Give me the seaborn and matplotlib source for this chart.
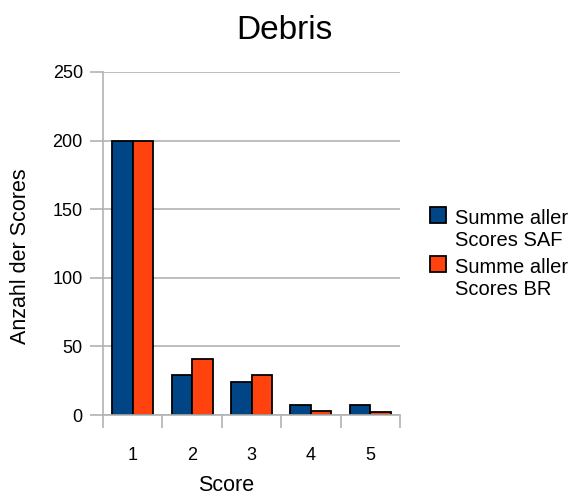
import matplotlib
matplotlib.use("Agg")
import matplotlib.pyplot as plt
from matplotlib.patches import Patch, Rectangle
from matplotlib.legend_handler import HandlerPatch
import seaborn as sns
import pandas as pd

# Score categories and the summed counts for each reader
scores = ["1", "2", "3", "4", "5"]
saf_counts = [200, 29, 24, 7, 7]
br_counts = [200, 41, 29, 3, 2]
series_names = ["Summe aller\nScores SAF", "Summe aller\nScores BR"]
series_colors = ["#004586", "#ff420e"]

df = pd.DataFrame({
    "Score": scores * 2,
    "Anzahl": saf_counts + br_counts,
    "Serie": [series_names[0]] * len(scores) + [series_names[1]] * len(scores),
})

sns.set_theme(style="white")
plt.rcParams["font.family"] = ["Liberation Sans", "DejaVu Sans"]

W, H = 575, 497
fig = plt.figure(figsize=(W / 100, H / 100), dpi=100)
ax = fig.add_axes([103 / W, 1 - 415 / H, 297 / W, 343 / H])

grid_color = "#b3b3b3"

sns.barplot(
    data=df, x="Score", y="Anzahl", hue="Serie",
    palette=series_colors, width=0.69, gap=0,
    edgecolor="black", linewidth=1.3, saturation=1,
    legend=False, ax=ax,
)

ax.set_ylim(0, 250)
ax.set_xlim(-0.5, len(scores) - 0.5)
ax.set_yticks(range(0, 251, 50))
ax.yaxis.grid(True, color=grid_color, linewidth=1.2)
ax.set_axisbelow(True)

# Category ticks sit between the groups; labels sit under the groups
ax.set_xticks([i - 0.5 for i in range(len(scores) + 1)])
ax.set_xticklabels([])
ax.set_xticks(range(len(scores)), minor=True)
ax.set_xticklabels(scores, minor=True)
ax.tick_params(axis="x", which="major", direction="out", length=9.5, width=1.2,
               color=grid_color, bottom=True)
ax.tick_params(axis="x", which="minor", length=0, pad=23, labelsize=13,
               labelcolor="black")
ax.tick_params(axis="y", direction="out", length=9.5, width=1.2, color=grid_color,
               left=True, pad=5, labelsize=13, labelcolor="black")

for side in ["top", "right"]:
    ax.spines[side].set_visible(False)
for side in ["left", "bottom"]:
    ax.spines[side].set_color(grid_color)
    ax.spines[side].set_linewidth(1.2)

ax.set_xlabel("Score", fontsize=15.5, color="black")
ax.xaxis.label.set_va("bottom")
ax.xaxis.set_label_coords((226 - 103) / 297, (415 - 496) / 343)

ax.set_ylabel("Anzahl der Scores", fontsize=15.5, color="black")
ax.yaxis.label.set_va("center")
ax.yaxis.set_label_coords((21 - 103) / 297, (415 - 256) / 343)

fig.text(284.5 / W, 1 - 39 / H, "Debris", fontsize=24, color="black",
         ha="center", va="baseline")


def top_line_square(legend, orig_handle, xdescent, ydescent, width, height, fontsize):
    # square marker aligned with the first line of a two-line label
    side = 0.78 * fontsize
    return Rectangle((-xdescent, 0.7 * fontsize), side, side)


handles = [Patch(facecolor=c, edgecolor="black", linewidth=1.3) for c in series_colors]
fig.legend(handles, series_names, loc="upper left", bbox_to_anchor=(420 / W, 1 - 199 / H),
           frameon=False, fontsize=14.5, labelcolor="black",
           handlelength=0.78, handleheight=0.7,
           handletextpad=0.45, labelspacing=0.4, borderpad=0.0,
           handler_map={Patch: HandlerPatch(patch_func=top_line_square)})

fig.savefig("out.png", dpi=100, facecolor="white")
